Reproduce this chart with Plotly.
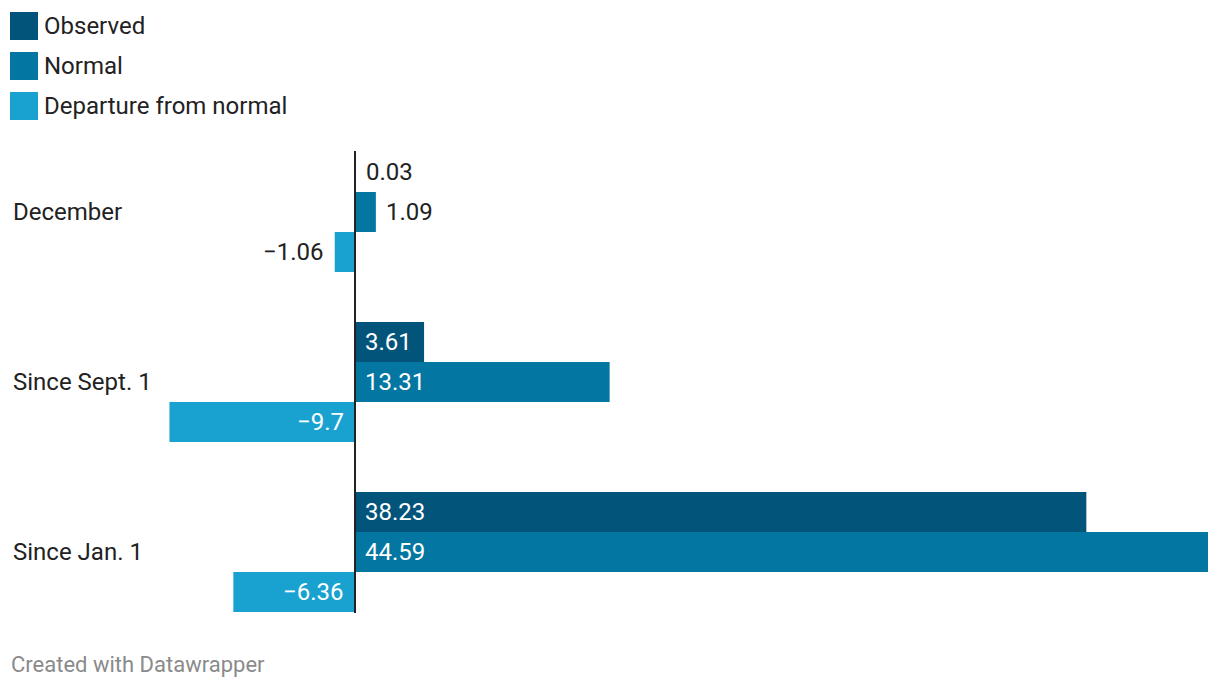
import plotly.graph_objects as go

categories = ["December", "Since Sept. 1", "Since Jan. 1"]
series_names = ["Observed", "Normal", "Departure from normal"]
observed = [0.03, 3.61, 38.23]
normal = [1.09, 13.31, 44.59]
departure = [-1.06, -9.7, -6.36]
series_values = [observed, normal, departure]
colors = ["#03547b", "#0377a1", "#19a2cf"]

FONT = "Roboto"
W, H = 1212, 682          # page has an 8px body margin
PL, PT, PW, PH = 0, 119, 1200, 510   # plot area in figure pixels


def px(fx):
    return (fx - PL) / PW


def py(fy):
    return (PT + PH - fy) / PH


fig = go.Figure()
for name, vals, col in zip(series_names, series_values, colors):
    fig.add_trace(go.Bar(y=categories, x=vals, name=name, orientation="h",
                         marker=dict(color=col, line=dict(width=0)),
                         showlegend=False, hoverinfo="x+name"))

annotations = []
yshifts = [40, 0, -40]
for vals, ys in zip(series_values, yshifts):
    for cat, v in zip(categories, vals):
        label = f"{v}".replace("-", "\u2212")
        inside = abs(v) > 2
        annotations.append(dict(x=0 if inside else v, y=cat, xref="x", yref="y", text=label,
                                showarrow=False,
                                xanchor="left" if v > 0 else "right",
                                xshift=8 if v > 0 else -9, yshift=ys,
                                font=dict(family=FONT, size=24,
                                          color="white" if inside else "#222")))

for cat in categories:
    annotations.append(dict(x=px(3), y=cat, xref="paper", yref="y", text=cat, showarrow=False,
                            xanchor="left",
                            font=dict(family=FONT, size=24, color="#222")))

shapes = []
# legend swatches
for i, (name, col) in enumerate(zip(series_names, colors)):
    top = 4 + 40 * i
    shapes.append(dict(type="rect", xref="paper", yref="paper", x0=px(2), x1=px(30),
                       y0=py(top + 28), y1=py(top), fillcolor=col, line=dict(width=0)))
    annotations.append(dict(x=px(34), y=py(top + 14), xref="paper", yref="paper", text=name,
                            showarrow=False, xanchor="left", yanchor="middle",
                            font=dict(family=FONT, size=24, color="#222")))

# zero line
shapes.append(dict(type="line", xref="x", yref="paper", x0=0, x1=0,
                   y0=py(605), y1=py(143), line=dict(color="#222", width=2)))

annotations.append(dict(x=px(1), y=py(656), xref="paper", yref="paper",
                        text="Created with Datawrapper", showarrow=False, xanchor="left",
                        yanchor="middle", font=dict(family=FONT, size=22, color="#8a8a8a")))

fig.update_layout(
    width=W, height=H,
    margin=dict(l=PL, r=W - PL - PW, t=PT, b=H - PT - PH),
    paper_bgcolor="white", plot_bgcolor="white",
    barmode="group", bargap=50 / 170, bargroupgap=0,
    xaxis=dict(range=[-18.14, 44.59], visible=False, fixedrange=True),
    yaxis=dict(autorange="reversed", visible=False, fixedrange=True),
    annotations=annotations, shapes=shapes,
    showlegend=False,
    font=dict(family=FONT),
)

fig.write_html("out.html")
